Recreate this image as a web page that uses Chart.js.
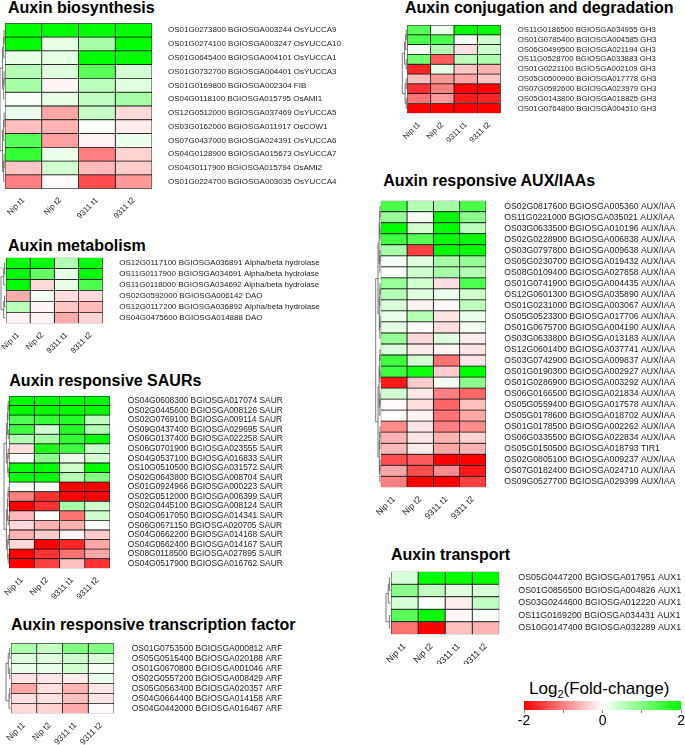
<!DOCTYPE html>
<html>
<head>
<meta charset="utf-8">
<script src="https://cdn.jsdelivr.net/npm/chart.js@4.4.1/dist/chart.umd.min.js"></script>
<style>
	body { margin: 0; background: #fff; }
	#page { position: relative; width: 685px; height: 745px; overflow: hidden; font-family: "Liberation Sans", Arial, sans-serif; }
	.ttl { position: absolute; font-weight: bold; font-size: 16px; line-height: 16px; white-space: nowrap; color: #000; }
	.cbl { position: absolute; font-size: 17px; line-height: 17px; white-space: nowrap; color: #000; }
	.cbl sub { font-size: 11px; line-height: 0; }
	canvas { position: absolute; }
</style>
</head>
<body>
<div id="page">
	<div class="ttl" style="left:8px;top:0px">Auxin biosynthesis</div>
	<div class="ttl" style="left:8px;top:237.5px">Auxin metabolism</div>
	<div class="ttl" style="left:9.3px;top:373.2px">Auxin responsive SAURs</div>
	<div class="ttl" style="left:11px;top:617.2px">Auxin responsive transcription factor</div>
	<div class="ttl" style="left:405px;top:0px">Auxin conjugation and degradation</div>
	<div class="ttl" style="left:383.3px;top:173.2px">Auxin responsive AUX/IAAs</div>
	<div class="ttl" style="left:391px;top:547.2px">Auxin transport</div>
	<div class="cbl" style="left:529px;top:679.6px">Log<sub>2</sub>(Fold-change)</div>
</div>
<script>
// ── DATA ────────────────────────────────────────────────────
const samples = ['Nip t1', 'Nip t2', '9311 t1', '9311 t2'];

const bioGenes = [
	'OS01G0273800 BGIOSGA003244 OsYUCCA9', 'OS01G0274100 BGIOSGA003247 OsYUCCA10',
	'OS01G0645400 BGIOSGA004101 OsYUCCA1', 'OS01G0732700 BGIOSGA004401 OsYUCCA3',
	'OS01G0169800 BGIOSGA002304 FIB', 'OS04G0118100 BGIOSGA015795 OsAMI1',
	'OS12G0512000 BGIOSGA037469 OsYUCCA5', 'OS03G0162000 BGIOSGA011917 OsCOW1',
	'OS07G0437000 BGIOSGA024391 OsYUCCA6', 'OS04G0128900 BGIOSGA015673 OsYUCCA7',
	'OS04G0117900 BGIOSGA015794 OsAMI2', 'OS01G0224700 BGIOSGA003035 OsYUCCA4'
];
const bioVals = [
	[2, 2, 2, 2], [2, 0.2, 0.7, 2], [0.2, 0.2, 2, 2], [0.6, 0.25, 1.3, 0.35],
	[0.7, -0.08, 0.55, 0.25], [0.05, 0.2, 0.5, 0.7], [0.15, -0.7, 0.45, -0.3], [-0.5, -0.6, 0.05, -0.15],
	[1.3, -0.75, -0.1, 0.15], [1.6, 0.15, -1.0, -0.35], [-0.45, 0.35, -0.55, -0.4], [-1.0, -0.05, -1.4, -0.8]
];

const metGenes = [
	'OS12G0117100 BGIOSGA036891 Alpha/beta hydrolase', 'OS11G0117900 BGIOSGA034691 Alpha/beta hydrolase',
	'OS11G0118000 BGIOSGA034692 Alpha/beta hydrolase', 'OS02G0592000 BGIOSGA006142 DAO',
	'OS12G0117200 BGIOSGA036892 Alpha/beta hydrolase', 'OS04G0475600 BGIOSGA014888 DAO'
];
const metVals = [
	[2, 2, 0.6, 2], [2, 1.2, 0.2, 2], [2, -0.3, 0.2, 1.4],
	[-0.65, 0.08, -0.25, -0.3], [0.55, -0.06, -0.45, -0.55], [-0.1, -0.08, -0.65, -0.35]
];

const saurGenes = [
	'OS04G0608300 BGIOSGA017074 SAUR', 'OS02G0445600 BGIOSGA008126 SAUR', 'OS02G0769100 BGIOSGA009114 SAUR',
	'OS09G0437400 BGIOSGA029695 SAUR', 'OS06G0137400 BGIOSGA022258 SAUR', 'OS06G0701900 BGIOSGA023555 SAUR',
	'OS04G0537100 BGIOSGA016833 SAUR', 'OS10G0510500 BGIOSGA031572 SAUR', 'OS02G0643800 BGIOSGA008704 SAUR',
	'OS01G0924966 BGIOSGA000223 SAUR', 'OS02G0512000 BGIOSGA006399 SAUR', 'OS02G0445100 BGIOSGA008124 SAUR',
	'OS04G0617050 BGIOSGA014341 SAUR', 'OS06G0671150 BGIOSGA020705 SAUR', 'OS04G0662200 BGIOSGA014168 SAUR',
	'OS04G0662400 BGIOSGA014167 SAUR', 'OS08G0118500 BGIOSGA027895 SAUR', 'OS04G0517900 BGIOSGA016762 SAUR'
];
const saurVals = [
	[2, 2, 2, 2], [2, 2, 2, 2], [1.4, 1.6, 1.7, 0.5], [1.5, 0.4, 1.7, 0.6], [0.6, 0.7, 1.6, 2],
	[-0.25, 1.8, 1.5, 0.45], [0, 0.9, 0.15, 0.35], [1.9, 2, 0.4, 2], [1.9, 2, 0.6, 1.0],
	[0.05, 0.05, -2, -2], [-1.0, -1.6, -2, -2], [-2, -1.6, 0.7, 0.4], [-0.55, 0.05, -1.1, 0.4],
	[-0.3, -0.6, -0.6, 0.05], [-0.6, -0.4, -0.08, -0.4], [-0.3, -2, -1.7, -0.7], [-2, -1.6, -1.1, -0.7],
	[-2, -1.5, -0.5, -1.6]
];

const arfGenes = [
	'OS01G0753500 BGIOSGA000812 ARF', 'OS05G0515400 BGIOSGA020188 ARF', 'OS01G0670800 BGIOSGA001046 ARF',
	'OS02G0557200 BGIOSGA008429 ARF', 'OS05G0563400 BGIOSGA020357 ARF', 'OS04G0664400 BGIOSGA014158 ARF',
	'OS04G0442000 BGIOSGA016467 ARF'
];
const arfVals = [
	[0.65, 0.45, 1.0, 1.0], [0.25, 0.25, 0.4, 0.3], [0.15, 0.15, 0.35, 0.1], [-0.2, -0.2, -0.15, 0.15],
	[-0.7, -0.25, -0.6, -0.2], [-0.25, -0.25, -0.5, -0.2], [-0.3, -0.35, -0.65, -0.03]
];

const gh3Genes = [
	'OS11G0186500 BGIOSGA034955 GH3', 'OS01G0785400 BGIOSGA004585 GH3', 'OS06G0499500 BGIOSGA021194 GH3',
	'OS11G0528700 BGIOSGA033883 GH3', 'OS01G0221100 BGIOSGA002109 GH3', 'OS05G0500900 BGIOSGA017778 GH3',
	'OS07G0592600 BGIOSGA023979 GH3', 'OS05G0143800 BGIOSGA018825 GH3', 'OS01G0764800 BGIOSGA004510 GH3'
];
const gh3Vals = [
	[1.3, 0.15, 2, 2], [1.4, 1.4, 0.08, 0.4], [0.08, 0.6, -0.25, 0.4], [1.1, -1.3, 0.55, 0.65],
	[-1.7, 0.2, -0.45, -0.6], [-0.5, -0.8, -0.7, -0.45], [-1.6, -1.0, -2, -2], [-1.1, -0.8, -1.8, -1.7],
	[-2, -2, -2, -2]
];

const iaaGenes = [
	'OS02G0817600 BGIOSGA005360 AUX/IAA', 'OS11G0221000 BGIOSGA035021 AUX/IAA', 'OS03G0633500 BGIOSGA010196 AUX/IAA',
	'OS02G0228900 BGIOSGA006838 AUX/IAA', 'OS03G0797800 BGIOSGA009638 AUX/IAA', 'OS05G0230700 BGIOSGA019432 AUX/IAA',
	'OS08G0109400 BGIOSGA027858 AUX/IAA', 'OS01G0741900 BGIOSGA004435 AUX/IAA', 'OS12G0601300 BGIOSGA035890 AUX/IAA',
	'OS01G0231000 BGIOSGA003067 AUX/IAA', 'OS05G0523300 BGIOSGA017706 AUX/IAA', 'OS01G0675700 BGIOSGA004190 AUX/IAA',
	'OS03G0633800 BGIOSGA013183 AUX/IAA', 'OS12G0601400 BGIOSGA037741 AUX/IAA', 'OS03G0742900 BGIOSGA009837 AUX/IAA',
	'OS01G0190300 BGIOSGA002927 AUX/IAA', 'OS01G0286900 BGIOSGA003292 AUX/IAA', 'OS06G0166500 BGIOSGA021834 AUX/IAA',
	'OS05G0559400 BGIOSGA017578 AUX/IAA', 'OS05G0178600 BGIOSGA018702 AUX/IAA', 'OS01G0178500 BGIOSGA002262 AUX/IAA',
	'OS06G0335500 BGIOSGA022834 AUX/IAA', 'OS05G0150500 BGIOSGA018793 TIR1', 'OS02G0805100 BGIOSGA009237 AUX/IAA',
	'OS07G0182400 BGIOSGA024710 AUX/IAA', 'OS09G0527700 BGIOSGA029399 AUX/IAA'
];
const iaaVals = [
	[1.4, 0.6, 0.7, 1.4], [0.8, 0.1, 2, 0.9], [2, 0.35, 2, 0.55], [1.5, 1.3, 2, 2], [0.7, -1.5, 2, 2],
	[0.1, 0.25, 0.7, 0.8], [0.05, 0.35, 0.7, 0.6], [0.8, 0.35, -0.25, 1.4], [0.6, 0.25, 0.15, 0.35],
	[0.3, -0.1, -0.03, 0.5], [0.15, 0.6, -0.2, 0.15], [0.2, -0.02, -0.25, 0.1], [0.8, -0.3, 0.25, -0.15],
	[0.3, -0.15, -0.08, -0.2], [1.5, 0.35, -1.1, -0.2], [1.5, 1.9, -0.4, 2], [-1.8, -0.4, 0.1, 0.9],
	[0.35, -0.2, -1.0, -1.2], [-0.05, -0.25, -1.2, -0.5], [-0.02, -0.08, -1.1, -0.7], [-0.9, -0.2, -1.0, -0.9],
	[-0.6, -0.2, -0.6, -0.35], [-0.55, -0.15, -0.7, -0.6], [-1.4, -1.3, -2, -2], [-0.7, -1.4, -0.9, -1.8],
	[-1.0, -2, -2, -1.5]
];

const auxGenes = [
	'OS05G0447200 BGIOSGA017951 AUX1', 'OS01G0856500 BGIOSGA004826 AUX1', 'OS03G0244600 BGIOSGA012220 AUX1',
	'OS11G0169200 BGIOSGA034431 AUX1', 'OS10G0147400 BGIOSGA032289 AUX1'
];
const auxVals = [
	[0.3, 2, 2, 2], [0.9, 0.5, 0.25, 0.3], [0.3, 0.05, -0.15, 0.5], [1.3, 2, -0.05, 0.05], [-1.1, -2, -0.5, -0.6]
];

const scaleTicks = [-2, -1, 0, 1, 2];
const scaleLabels = ['-2', '', '0', '', '2'];

// ── UTILS ───────────────────────────────────────────────────
const $ = id => document.getElementById(id);
Chart.defaults.font.family = '"Liberation Sans", Arial, sans-serif';

// red (-2) -> white (0) -> green (+2)
function fc(v) {
	const t = Math.max(-1, Math.min(1, v / 2));
	const k = Math.round(255 * (1 - Math.abs(t)));
	return t >= 0 ? `rgb(${k},255,${k})` : `rgb(255,${k},${k})`;
}

function addCanvas([x, y, w, h]) {
	const cv = document.createElement('canvas');
	cv.width = w; cv.height = h;
	cv.style.left = x + 'px'; cv.style.top = y + 'px';
	$('page').appendChild(cv);
	return cv;
}

// ── DENDROGRAM (rough, from row positions) ───────────────────
const dendro = {
	id: 'dendro',
	afterDatasetsDraw(chart) {
		const { ctx, chartArea: a, scales: { y } } = chart;
		const n = chart.data.labels.length;
		const span = 4.5;
		ctx.save();
		ctx.strokeStyle = '#555';
		ctx.lineWidth = 0.8;
		ctx.beginPath();
		function node(i, j) {
			if (i === j) return { x: a.left - 0.5, y: y.getPixelForValue(i) };
			const m = Math.floor((i + j) / 2);
			const l = node(i, m), r = node(m + 1, j);
			const x = a.left - 0.5 - span * (j - i) / Math.max(1, n - 1);
			ctx.moveTo(l.x, l.y); ctx.lineTo(x, l.y);
			ctx.lineTo(x, r.y); ctx.lineTo(r.x, r.y);
			return { x, y: (l.y + r.y) / 2 };
		}
		node(0, n - 1);
		ctx.stroke();
		ctx.restore();
	}
};

// ── HEATMAP ──────────────────────────────────────────────────
function heatmap(genes, vals, box, cvBox, labelX, font) {
	const cv = addCanvas(cvBox);
	const [cx, cy, cw, ch] = cvBox;
	const [L, T, R, B] = box;
	new Chart(cv, {
		type: 'bar',
		data: {
			labels: genes,
			datasets: samples.map((s, c) => ({
				label: s,
				data: genes.map(() => [c, c + 1]),
				backgroundColor: ctx => fc(vals[ctx.dataIndex][c]),
				borderColor: '#111',
				borderWidth: 0.75,
				borderSkipped: false,
				barPercentage: 1,
				categoryPercentage: 1,
				grouped: false
			}))
		},
		options: {
			indexAxis: 'y',
			responsive: false,
			animation: false,
			events: [],
			layout: { padding: { left: L - cx, top: T - cy, right: 0, bottom: 0 } },
			plugins: { legend: { display: false }, tooltip: { enabled: false } },
			scales: {
				x: {
					type: 'linear', min: 0, max: 4, position: 'bottom',
					grid: { display: false, drawTicks: false }, border: { display: false },
					afterBuildTicks: sc => { sc.ticks = samples.map((s, i) => ({ value: i + 0.5 })); },
					afterFit: sc => {
						sc.height = cy + ch - B;
						sc.paddingLeft = 0; sc.paddingRight = 0;
					},
					ticks: {
						autoSkip: false, minRotation: 45, maxRotation: 45, padding: 7,
						font: { size: font }, color: '#222',
						callback: (v, i) => samples[i]
					}
				},
				y: {
					position: 'right',
					grid: { display: false, drawTicks: false }, border: { display: false },
					afterFit: sc => {
						sc.width = cx + cw - R;
						sc.paddingTop = 0; sc.paddingBottom = 0;
					},
					ticks: { autoSkip: false, padding: labelX - R, font: { size: font }, color: '#222' }
				}
			}
		},
		plugins: [dendro]
	});
}

heatmap(bioGenes, bioVals, [5, 23.3, 152, 188.7], [0, 21, 370, 210], 168, 8);
heatmap(metGenes, metVals, [6, 257.7, 102.7, 323.3], [0, 255, 370, 110], 119.3, 8);
heatmap(saurGenes, saurVals, [9, 396, 110, 568.3], [0, 394, 370, 216], 127.7, 8.4);
heatmap(arfGenes, arfVals, [11, 643.3, 114, 713.3], [0, 641, 370, 104], 131.7, 8.5);
heatmap(gh3Genes, gh3Vals, [407.3, 25, 500.7, 113.3], [400, 23, 285, 125], 517.7, 7.8);
heatmap(iaaGenes, iaaVals, [380.7, 200.7, 486, 487.3], [374, 198, 311, 332], 504.3, 8.7);
heatmap(auxGenes, auxVals, [391, 571.7, 499.3, 634.3], [384, 569, 301, 95], 518.3, 8.9);

// ── COLOUR KEY ───────────────────────────────────────────────
new Chart(addCanvas([500, 699, 185, 32]), {
	type: 'bar',
	data: {
		labels: [''],
		datasets: [{
			data: [[scaleTicks[0], scaleTicks[scaleTicks.length - 1]]],
			backgroundColor: ctx => {
				const a = ctx.chart.chartArea;
				if (!a) return '#fff';
				const g = ctx.chart.ctx.createLinearGradient(a.left, 0, a.right, 0);
				scaleTicks.forEach((t, i) => g.addColorStop(i / (scaleTicks.length - 1), fc(t)));
				return g;
			},
			borderWidth: 0,
			barPercentage: 1,
			categoryPercentage: 1
		}]
	},
	options: {
		indexAxis: 'y',
		responsive: false,
		animation: false,
		events: [],
		layout: { padding: { left: 24, top: 2, right: 3.3, bottom: 0 } },
		plugins: { legend: { display: false }, tooltip: { enabled: false } },
		scales: {
			x: {
				type: 'linear', min: -2, max: 2,
				grid: { drawOnChartArea: false, drawTicks: true, tickLength: 3, color: '#888' },
				border: { display: false },
				afterBuildTicks: sc => { sc.ticks = scaleTicks.map(v => ({ value: v })); },
				afterFit: sc => { sc.height = 21; },
				ticks: { padding: 0, font: { size: 14 }, color: '#000', maxRotation: 0, callback: (v, i) => scaleLabels[i] }
			},
			y: { display: false }
		}
	}
});
</script>
</body>
</html>
